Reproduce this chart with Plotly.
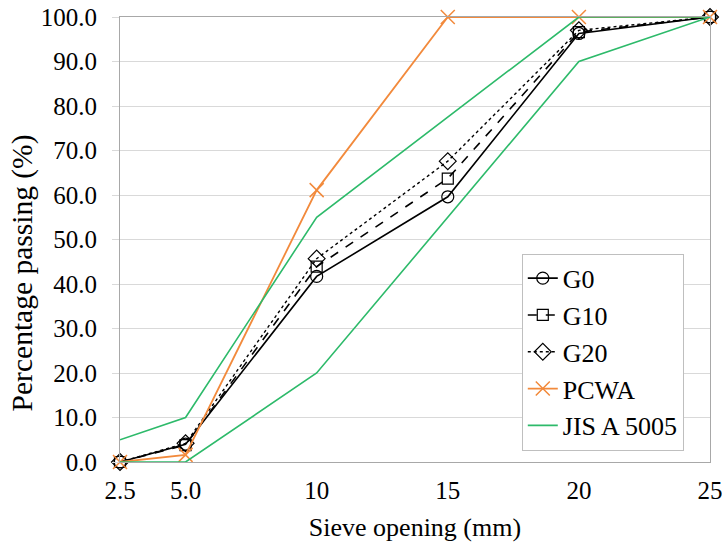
import plotly.graph_objects as go

sieve = [2.5, 5.0, 10, 15, 20, 25]
g0 = [0.0, 4.0, 41.7, 59.6, 96.3, 100.0]
g10 = [0.0, 3.8, 43.9, 63.7, 96.6, 100.0]
g20 = [0.0, 4.2, 45.7, 67.6, 97.0, 100.0]
pcwa = [0.0, 1.6, 61.1, 100.0, 100.0, 100.0]
jis_sieve = [2.5, 5.0, 10, 20, 25]
jis_upper = [5.0, 10.0, 55.0, 100.0, 100.0]
jis_lower = [0.0, 0.0, 20.0, 90.0, 100.0]

x_ticks = [2.5, 5.0, 10, 15, 20, 25]
x_labels = ["2.5", "5.0", "10", "15", "20", "25"]
y_ticks = [0, 10, 20, 30, 40, 50, 60, 70, 80, 90, 100]
y_labels = ["%.1f" % v for v in y_ticks]

FONT = "'Liberation Serif', 'Times New Roman', Times, 'DejaVu Serif', serif"
ORANGE = "#F28A3C"
GREEN = "#2DBA6A"

fig = go.Figure()
fig.add_trace(go.Scatter(x=sieve, y=g0, name="G0", mode="lines+markers",
                         line=dict(color="black", width=1.6),
                         marker=dict(symbol="circle-open", size=12, color="black", line=dict(width=1.2)),
                         cliponaxis=False, legendgroup="a"))
fig.add_trace(go.Scatter(x=sieve, y=g10, name="G10", mode="lines+markers",
                         line=dict(color="black", width=1.6, dash="dash"),
                         marker=dict(symbol="square-open", size=11, color="black", line=dict(width=1.2)),
                         cliponaxis=False, legendgroup="b"))
fig.add_trace(go.Scatter(x=sieve, y=g20, name="G20", mode="lines+markers",
                         line=dict(color="black", width=1.4, dash="dot"),
                         marker=dict(symbol="diamond-open", size=13, color="black", line=dict(width=1.2)),
                         cliponaxis=False, legendgroup="c"))
fig.add_trace(go.Scatter(x=sieve, y=pcwa, name="PCWA", mode="lines+markers",
                         line=dict(color=ORANGE, width=1.8),
                         marker=dict(symbol="x-thin-open", size=14, color=ORANGE, line=dict(width=1.5, color=ORANGE)),
                         cliponaxis=False, legendgroup="d"))
fig.add_trace(go.Scatter(x=jis_sieve, y=jis_upper, name="JIS A 5005", mode="lines",
                         line=dict(color=GREEN, width=1.6), cliponaxis=False, legendgroup="e"))
fig.add_trace(go.Scatter(x=jis_sieve, y=jis_lower, name="JIS A 5005", mode="lines",
                         line=dict(color=GREEN, width=1.6), cliponaxis=False, showlegend=False, legendgroup="e"))

fig.update_layout(
    width=722, height=544,
    margin=dict(l=120, r=12, t=17, b=82, autoexpand=False),
    paper_bgcolor="white", plot_bgcolor="white",
    font=dict(family=FONT, size=25, color="black"),
    showlegend=True,
    legend=dict(x=0.681, y=0.468, xanchor="left", yanchor="top",
                bordercolor="#BFBFBF", borderwidth=1, bgcolor="white",
                font=dict(family=FONT, size=26, color="black"),
                traceorder="grouped", tracegroupgap=0, itemwidth=30),
    annotations=[dict(text="Percentage passing (%)", textangle=-90, showarrow=False,
                      xref="paper", yref="paper", x=-0.166, y=0.424,
                      xanchor="center", yanchor="middle",
                      font=dict(family=FONT, size=29.5, color="black"))],
)
fig.update_xaxes(range=[2.5, 25], tickmode="array", tickvals=x_ticks, ticktext=x_labels,
                 showgrid=False, zeroline=False, showline=True, linecolor="#A8A8A8", linewidth=1,
                 mirror=True, ticks="", ticklabelstandoff=6, automargin=False,
                 ticklabeloverflow="allow",
                 title=dict(text="Sieve opening (mm)", font=dict(family=FONT, size=26), standoff=14))
fig.update_yaxes(range=[0, 100], tickmode="array", tickvals=y_ticks, ticktext=y_labels,
                 showgrid=True, gridcolor="#D9D9D9", gridwidth=1, zeroline=False,
                 showline=True, linecolor="#A8A8A8", linewidth=1, mirror=True, automargin=False,
                 ticklabeloverflow="allow",
                 ticks="outside", ticklen=7, tickcolor="#D9D9D9", ticklabelstandoff=10)

fig.write_html("out.html")
